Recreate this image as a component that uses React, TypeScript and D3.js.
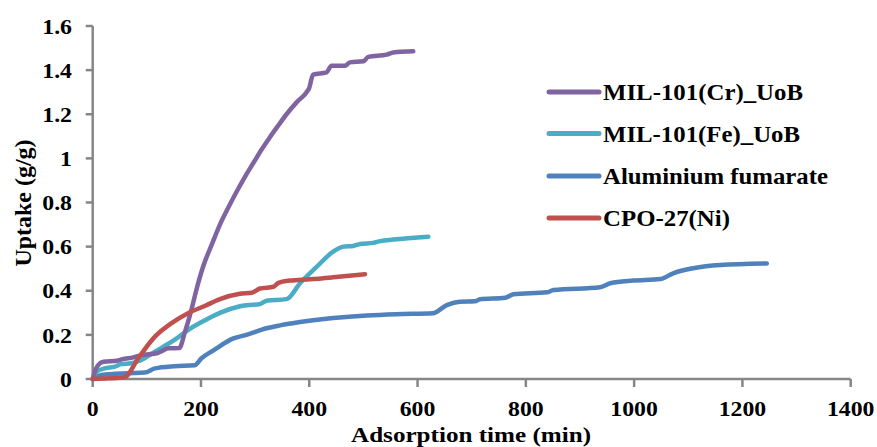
import React from "react";
import * as d3 from "d3";

const seriesNames = ["MIL-101(Cr)_UoB", "MIL-101(Fe)_UoB", "Aluminium fumarate", "CPO-27(Ni)"];
const seriesColors = ["#8064A2", "#4BACC6", "#4F81BD", "#C0504D"];

const crTime = [0, 5, 10, 20, 45, 55, 75, 90, 120, 130, 140, 160, 170, 183, 190, 204, 220, 235, 250, 266, 282, 297, 312, 327, 343, 358, 377, 395, 400, 407, 432, 441, 466, 475, 500, 509, 543, 555, 592];
const crUptake = [0, 0.04, 0.063, 0.078, 0.083, 0.09, 0.098, 0.108, 0.118, 0.13, 0.139, 0.14, 0.21, 0.32, 0.39, 0.51, 0.61, 0.7, 0.775, 0.85, 0.92, 0.98, 1.04, 1.095, 1.15, 1.2, 1.255, 1.3, 1.32, 1.38, 1.39, 1.42, 1.42, 1.435, 1.44, 1.46, 1.47, 1.48, 1.485];

const feTime = [0, 7, 22, 41, 53, 71, 90, 115, 151, 176, 204, 235, 272, 309, 321, 358, 383, 414, 444, 463, 481, 494, 518, 531, 555, 620];
const feUptake = [0, 0.033, 0.048, 0.056, 0.068, 0.071, 0.086, 0.124, 0.177, 0.222, 0.262, 0.3, 0.33, 0.34, 0.355, 0.362, 0.434, 0.509, 0.577, 0.6, 0.603, 0.612, 0.617, 0.625, 0.632, 0.645];

const alTime = [0, 16, 65, 96, 115, 151, 188, 201, 223, 260, 284, 321, 346, 383, 444, 506, 560, 628, 654, 678, 706, 715, 762, 777, 839, 851, 937, 956, 998, 1048, 1072, 1109, 1159, 1245];
const alUptake = [0, 0.018, 0.026, 0.029, 0.048, 0.058, 0.062, 0.094, 0.13, 0.184, 0.2, 0.23, 0.243, 0.258, 0.276, 0.288, 0.294, 0.298, 0.335, 0.35, 0.352, 0.361, 0.368, 0.384, 0.393, 0.403, 0.416, 0.434, 0.446, 0.453, 0.479, 0.502, 0.517, 0.524];

const niTime = [0, 30, 59, 84, 115, 145, 176, 207, 235, 272, 294, 309, 334, 343, 364, 401, 444, 503];
const niUptake = [0, 0.003, 0.008, 0.094, 0.192, 0.252, 0.298, 0.331, 0.362, 0.386, 0.391, 0.41, 0.418, 0.436, 0.446, 0.452, 0.461, 0.475];

const xTicks = [0, 200, 400, 600, 800, 1000, 1200, 1400];
const yTicks = [0, 0.2, 0.4, 0.6, 0.8, 1, 1.2, 1.4, 1.6];

const xTitle = "Adsorption time (min)";
const yTitle = "Uptake (g/g)";

function tickLen(s: string, size: number) {
  let em = 0;
  for (const c of s) em += c === "." ? 0.25 : 0.5;
  return em * size * 1.08;
}

export default function App() {
  const W = 877, H = 447;
  const x = d3.scaleLinear().domain([0, 1400]).range([92.7, 850.7]);
  const y = d3.scaleLinear().domain([0, 1.6]).range([379, 26]);
  const line = d3
    .line<[number, number]>()
    .x((d) => x(d[0]))
    .y((d) => y(d[1]))
    .curve(d3.curveMonotoneX);

  const series = [
    crTime.map((t, i) => [t, crUptake[i]] as [number, number]),
    feTime.map((t, i) => [t, feUptake[i]] as [number, number]),
    alTime.map((t, i) => [t, alUptake[i]] as [number, number]),
    niTime.map((t, i) => [t, niUptake[i]] as [number, number]),
  ];
  const drawOrder = [2, 1, 0, 3];
  const axisColor = "#868686";
  const fontStyle = { fontFamily: '"Liberation Serif", "DejaVu Serif", serif', fontWeight: 700 as const };
  const legendY = [92, 133.5, 176, 218];
  const legendLen = [200, 197, 225, 127];

  return (
    <svg width={W} height={H} style={{ position: "absolute", left: 0, top: 0, background: "#fff" }}>
      {/* axes */}
      <line x1={x(0)} x2={x(1400)} y1={y(0)} y2={y(0)} stroke={axisColor} strokeWidth={2.5} />
      <line x1={x(0)} x2={x(0)} y1={y(0)} y2={y(1.6)} stroke={axisColor} strokeWidth={2.5} />
      {yTicks.map((t) => (
        <g key={"y" + t}>
          <line x1={x(0) - 7} x2={x(0)} y1={y(t)} y2={y(t)} stroke={axisColor} strokeWidth={2.5} />
          <text x={72} y={y(t)} dy="0.35em" textAnchor="end" fontSize={22} fill="#000" style={fontStyle} textLength={tickLen(String(t), 22)} lengthAdjust="spacingAndGlyphs">
            {String(t)}
          </text>
        </g>
      ))}
      {xTicks.map((t) => (
        <g key={"x" + t}>
          <line x1={x(t)} x2={x(t)} y1={y(0)} y2={y(0) + 8} stroke={axisColor} strokeWidth={2.5} />
          <text x={x(t)} y={416} textAnchor="middle" fontSize={22} fill="#000" style={fontStyle} textLength={tickLen(String(t), 22)} lengthAdjust="spacingAndGlyphs">
            {String(t)}
          </text>
        </g>
      ))}
      <text x={471} y={442} textAnchor="middle" fontSize={22} fill="#000" style={fontStyle} textLength={240} lengthAdjust="spacingAndGlyphs">
        {xTitle}
      </text>
      <text transform={`translate(31,203) rotate(-90)`} textAnchor="middle" fontSize={23} fill="#000" style={fontStyle} textLength={127} lengthAdjust="spacingAndGlyphs">
        {yTitle}
      </text>
      {/* lines */}
      {drawOrder.map((i) => (
        <path key={"s" + i} d={line(series[i]) || ""} fill="none" stroke={seriesColors[i]} strokeWidth={4.5} strokeLinecap="round" strokeLinejoin="round" />
      ))}
      {/* legend */}
      {seriesNames.map((n, i) => (
        <g key={"l" + i}>
          <line x1={549} x2={599} y1={legendY[i]} y2={legendY[i]} stroke={seriesColors[i]} strokeWidth={5} strokeLinecap="round" />
          <text x={603} y={legendY[i]} dy="0.35em" fontSize={23} fill="#000" style={fontStyle} textLength={legendLen[i]} lengthAdjust="spacingAndGlyphs">
            {n}
          </text>
        </g>
      ))}
    </svg>
  );
}
